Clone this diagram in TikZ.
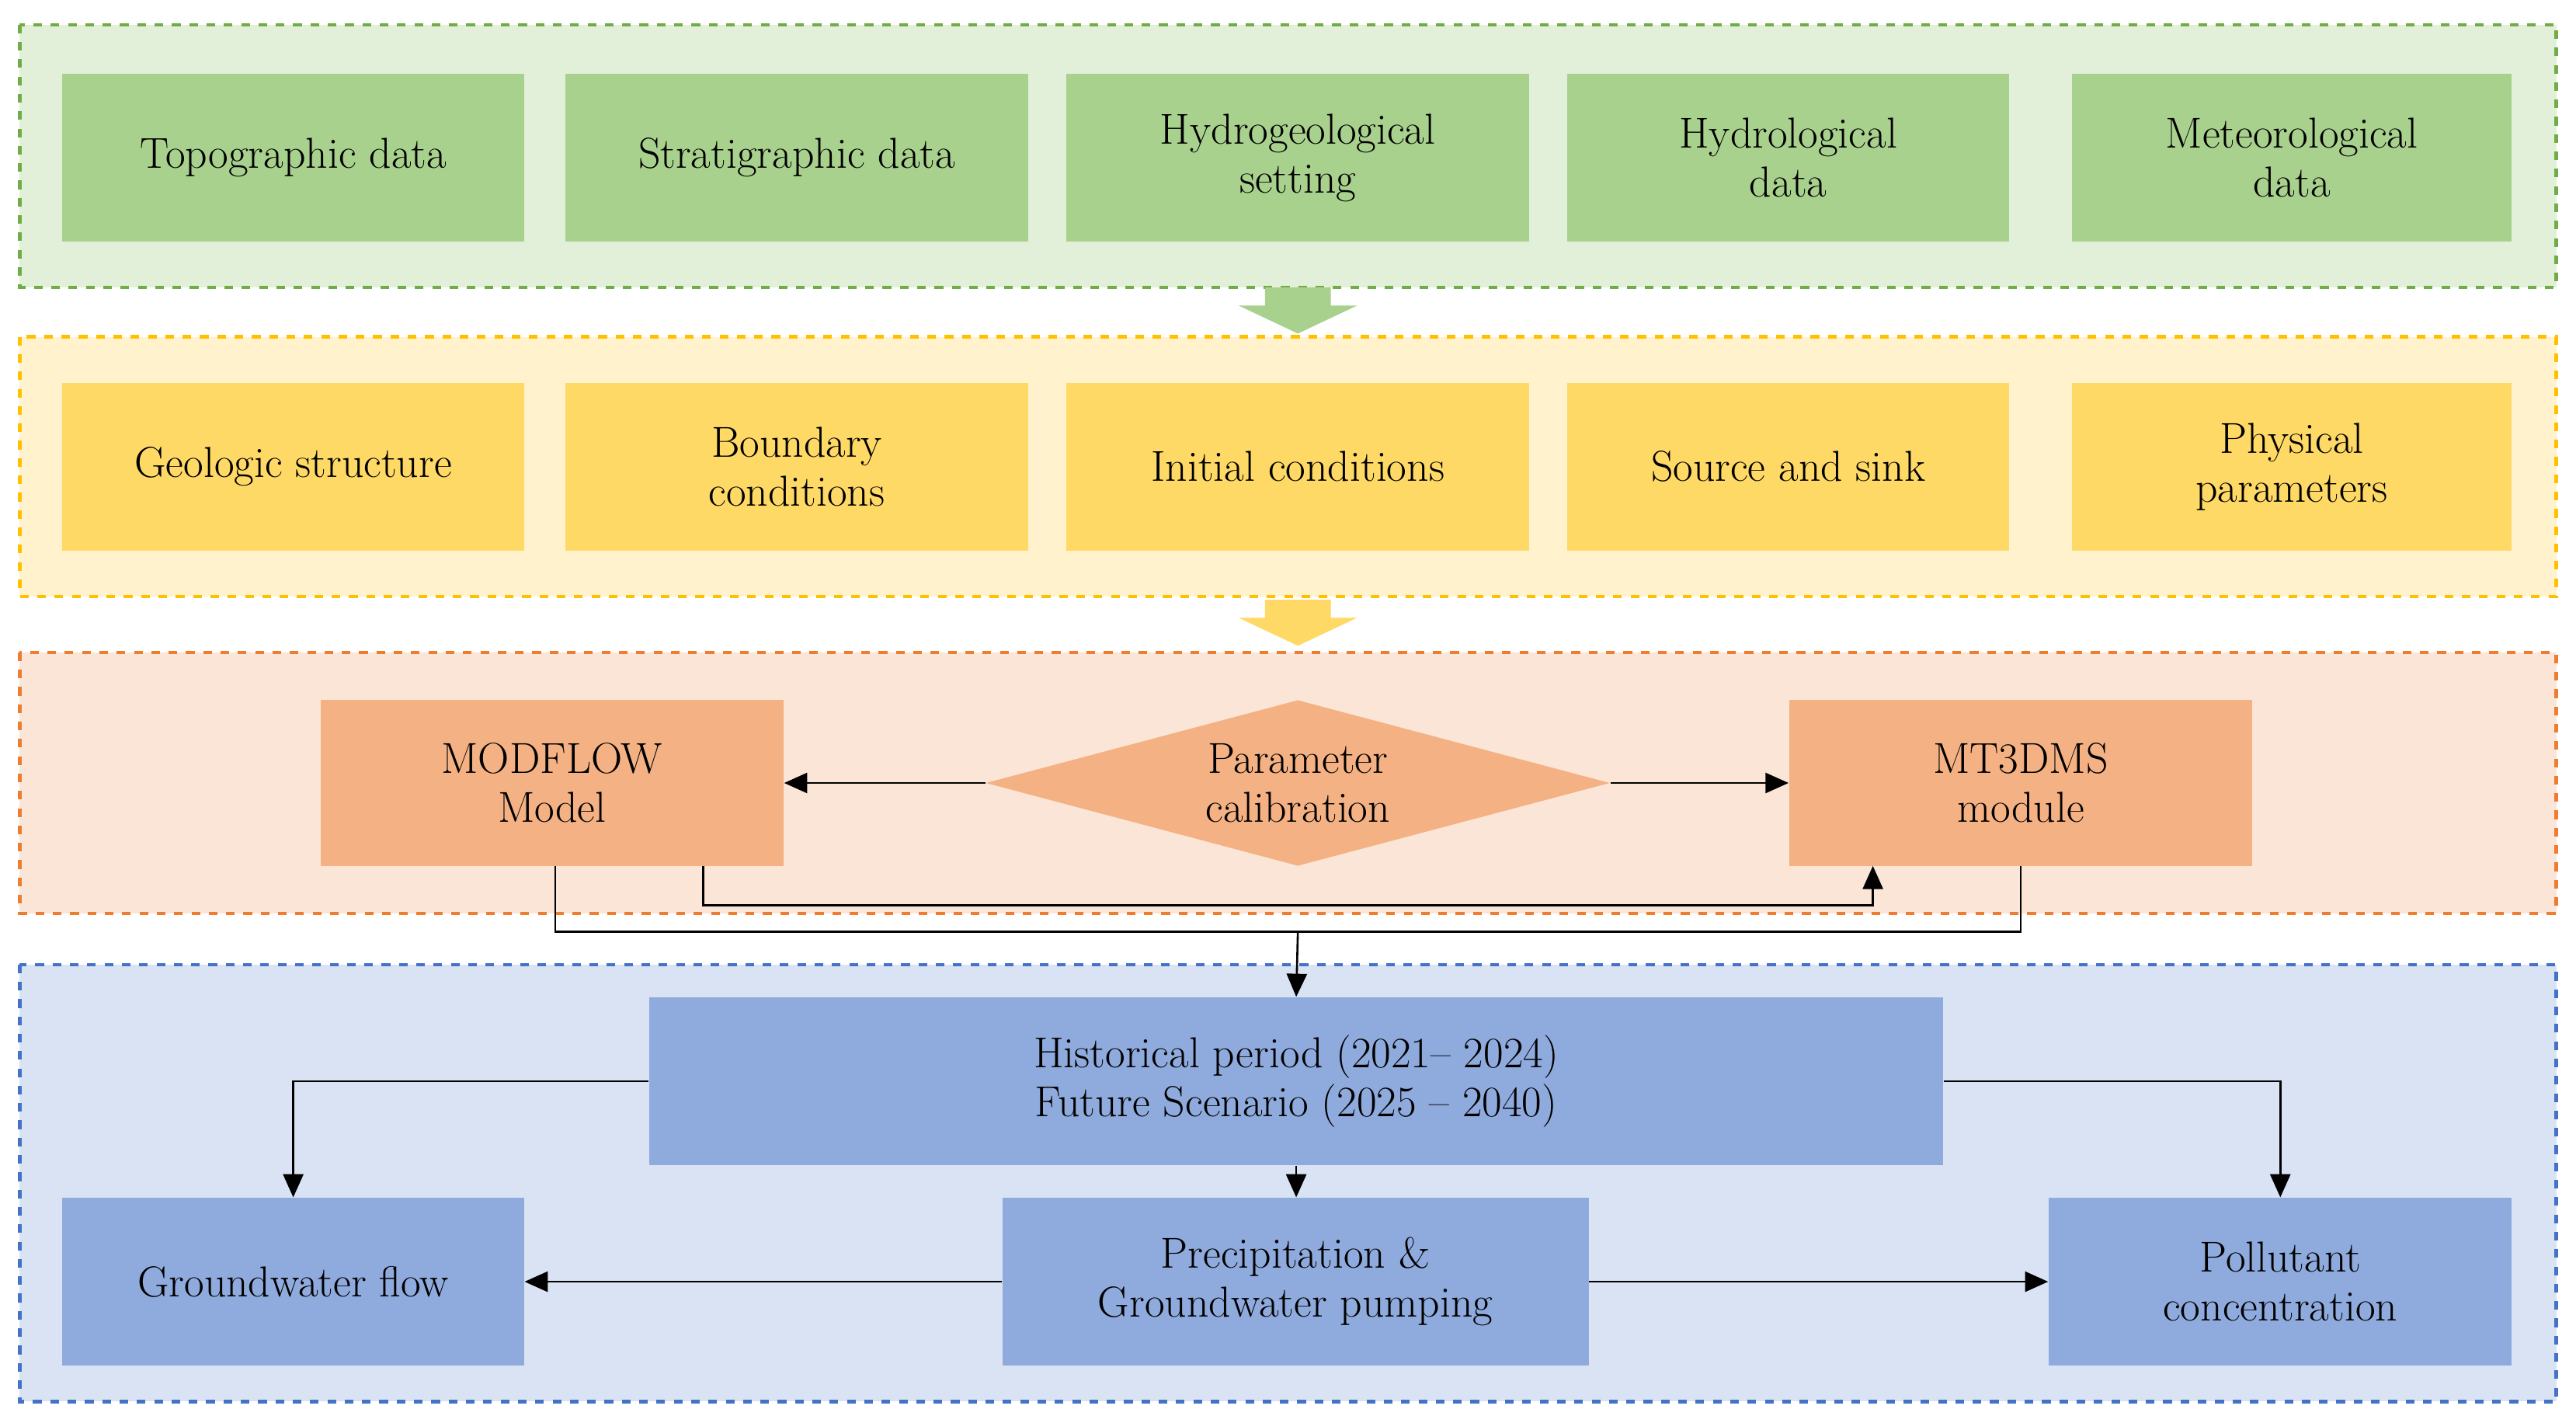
\documentclass[tikz,border=0pt]{standalone}
\usetikzlibrary{shapes.geometric,arrows.meta}
\definecolor{gL}{HTML}{E2EFD9}\definecolor{gB}{HTML}{70AD47}\definecolor{gF}{HTML}{A9D18E}
\definecolor{yL}{HTML}{FFF2CC}\definecolor{yB}{HTML}{FFC000}\definecolor{yF}{HTML}{FFD966}
\definecolor{oL}{HTML}{FBE5D6}\definecolor{oB}{HTML}{ED7D31}\definecolor{oF}{HTML}{F4B183}
\definecolor{bL}{HTML}{DAE3F3}\definecolor{bB}{HTML}{4472C4}\definecolor{bF}{HTML}{8FAADC}
\begin{document}
\begin{tikzpicture}[x=0.02cm,y=-0.02cm,
 panel/.style={dashed,line width=1.2pt},
 box/.style={rectangle,inner sep=0pt,align=center,font=\fontsize{15}{17}\selectfont},
 con/.style={-{Triangle[length=8pt,width=7pt]},line width=0.7pt}]
\useasboundingbox (0,0) rectangle (1568,866);
% panels
\draw[panel,draw=gB,fill=gL] (12,15) rectangle (1556,175);
\draw[panel,draw=yB,fill=yL] (12,205) rectangle (1556,363);
\draw[panel,draw=oB,fill=oL] (12,397) rectangle (1556,556);
\draw[panel,draw=bB,fill=bL] (12,587) rectangle (1556,853);
% block arrows
\fill[gF] (770,175) -- (810,175) -- (810,186) -- (826,186) -- (790,203) -- (754,186) -- (770,186) -- cycle;
\fill[yF] (770,365) -- (810,365) -- (810,376) -- (826,376) -- (790,393) -- (754,376) -- (770,376) -- cycle;
% row 1
\tikzset{r1/.style={box,fill=gF,minimum height=2.04cm}}
\node[r1,minimum width=5.62cm] (t1) at (178.5,96) {Topographic data};
\node[r1,minimum width=5.64cm] (t2) at (485,96) {Stratigraphic data};
\node[r1,minimum width=5.64cm] (t3) at (790,96) {Hydrogeological\\setting};
\node[r1,minimum width=5.38cm] (t4) at (1088.5,96) {Hydrological\\data};
\node[r1,minimum width=5.36cm] (t5) at (1395,96) {Meteorological\\data};
% row 2
\tikzset{r2/.style={box,fill=yF,minimum height=2.04cm}}
\node[r2,minimum width=5.62cm] (s1) at (178.5,284) {Geologic structure};
\node[r2,minimum width=5.64cm] (s2) at (485,284) {Boundary\\conditions};
\node[r2,minimum width=5.64cm] (s3) at (790,284) {Initial conditions};
\node[r2,minimum width=5.38cm] (s4) at (1088.5,284) {Source and sink};
\node[r2,minimum width=5.36cm] (s5) at (1395,284) {Physical\\parameters};
% row 3
\node[box,fill=oF,minimum width=5.64cm,minimum height=2.02cm] (mf) at (336,476.5) {MODFLOW\\Model};
\node[box,fill=oF,minimum width=5.64cm,minimum height=2.02cm] (mt) at (1230,476.5) {MT3DMS\\module};
\node[diamond,aspect=3.76,fill=oF,inner sep=0pt,minimum width=7.6cm,minimum height=2.02cm,align=center,font=\fontsize{15}{17}\selectfont] (pc) at (790,476.5) {};
\node[box] at (790,476.5) {Parameter\\calibration};
\draw[con] (pc.west) -- (mf.east);
\draw[con] (pc.east) -- (mt.west);
\coordinate (a1) at (428,527);
\coordinate (a2) at (1140,527);
\draw[con] (a1) -- (428,551) -- (1140,551) -- (a2);
\coordinate (b1) at (338,527);
\coordinate (b2) at (1230,527);
\coordinate (bm) at (790,567);
\draw[line width=0.7pt] (b1) -- (338,567) -- (1230,567) -- (b2);
% row 4
\node[box,fill=bF,minimum width=15.76cm,minimum height=2.04cm] (hp) at (789,658) {Historical period (2021-- 2024)\\Future Scenario (2025 -- 2040)};
\draw[con] (bm) -- (hp.north);
\node[box,fill=bF,minimum width=5.62cm,minimum height=2.04cm] (gw) at (178.5,780) {Groundwater flow};
\node[box,fill=bF,minimum width=7.14cm,minimum height=2.04cm] (pr) at (788.5,780) {Precipitation \&\\Groundwater pumping};
\node[box,fill=bF,minimum width=5.64cm,minimum height=2.04cm] (pl) at (1388,780) {Pollutant\\concentration};
\draw[con] (hp.west) -| (gw.north);
\draw[con] (hp.east) -| (pl.north);
\draw[con] (hp.south) -- (hp.south|-pr.north);
\draw[con] (pr.west) -- (gw.east);
\draw[con] (pr.east) -- (pl.west);
\end{tikzpicture}
\end{document}
